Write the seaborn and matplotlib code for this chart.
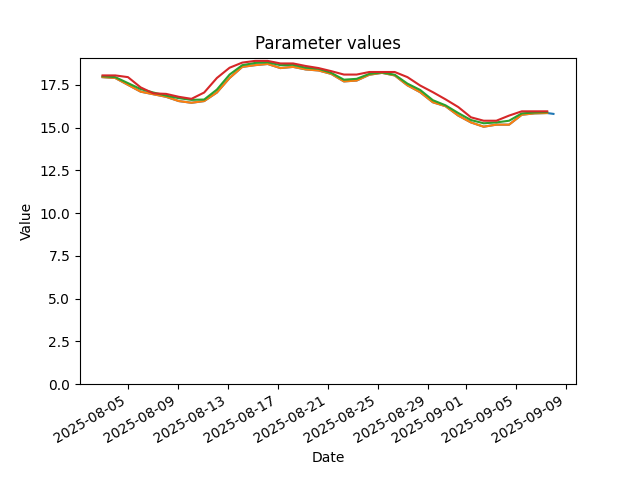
import matplotlib
matplotlib.use("Agg")
import matplotlib.pyplot as plt
import pandas as pd
import seaborn as sns

# readings are not exactly one day apart; the last one is mid-day on 09-07
FIRST_READING = "2025-08-03"
LAST_READING = "2025-09-07 12:00"
EXTRA_READING = "2025-09-08"  # only parameter A has this one

PARAM_NAMES = ["A", "B", "C", "D"]

values_a = [
    17.95, 17.90, 17.50, 17.10, 16.95, 16.80, 16.55, 16.45, 16.55, 17.05,
    17.90, 18.55, 18.65, 18.72, 18.48, 18.55, 18.40, 18.34, 18.14, 17.70,
    17.75, 18.09, 18.20, 18.05, 17.47, 17.07, 16.48, 16.25, 15.70, 15.30,
    15.05, 15.17, 15.17, 15.75, 15.83, 15.85, 15.80,
]
values_b = [
    17.95, 17.90, 17.50, 17.10, 16.95, 16.80, 16.55, 16.45, 16.55, 17.05,
    17.90, 18.55, 18.65, 18.72, 18.48, 18.55, 18.40, 18.34, 18.14, 17.70,
    17.75, 18.09, 18.20, 18.05, 17.47, 17.07, 16.48, 16.25, 15.70, 15.30,
    15.05, 15.17, 15.17, 15.75, 15.83, 15.85,
]
values_c = [
    18.00, 17.95, 17.60, 17.25, 17.05, 16.87, 16.72, 16.62, 16.64, 17.22,
    18.10, 18.65, 18.78, 18.82, 18.65, 18.67, 18.50, 18.44, 18.20, 17.80,
    17.85, 18.14, 18.22, 18.09, 17.57, 17.20, 16.60, 16.30, 15.85, 15.44,
    15.25, 15.30, 15.40, 15.83, 15.88, 15.90,
]
values_d = [
    18.05, 18.05, 17.95, 17.35, 17.00, 16.97, 16.80, 16.68, 17.05, 17.90,
    18.50, 18.80, 18.90, 18.90, 18.75, 18.75, 18.60, 18.48, 18.30, 18.10,
    18.10, 18.25, 18.25, 18.25, 17.95, 17.46, 17.07, 16.65, 16.20, 15.60,
    15.40, 15.40, 15.70, 15.95, 15.95, 15.95,
]


def build_frame():
    dates = pd.date_range(FIRST_READING, LAST_READING, periods=len(values_b))
    dates_a = dates.append(pd.DatetimeIndex([EXTRA_READING]))
    frames = []
    for name, vals in zip(PARAM_NAMES, [values_a, values_b, values_c, values_d]):
        x = dates_a if len(vals) == len(dates_a) else dates
        frames.append(pd.DataFrame({"Date": x, "Value": vals, "Parameter": name}))
    return pd.concat(frames, ignore_index=True)


def main():
    df = build_frame()

    fig, ax = plt.subplots(figsize=(6.4, 4.8))
    sns.lineplot(data=df, x="Date", y="Value", hue="Parameter",
                 hue_order=PARAM_NAMES, legend=False, ax=ax)
    ax.set_ylim(bottom=0)
    ax.set_title("Parameter values")
    fig.autofmt_xdate()

    plt.savefig("out.png", dpi=100)
    plt.close()


if __name__ == "__main__":
    main()
